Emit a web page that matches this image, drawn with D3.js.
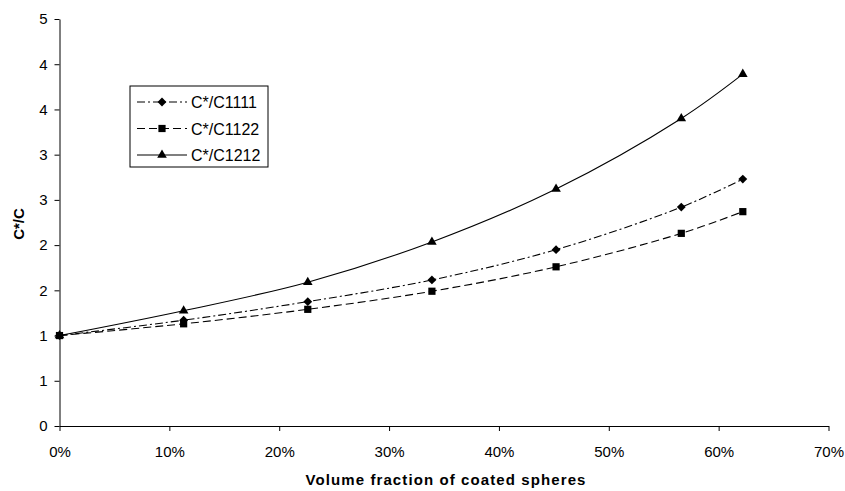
<!DOCTYPE html>
<html lang="en">
  <head>
    <meta charset="utf-8">
    <title>C*/C vs volume fraction</title>
    <script type="text/javascript" src="https://d3js.org/d3.v7.min.js"></script>
  </head>
  <style>
    body { margin: 0; background: #fff; }
    text { font-family: "Liberation Sans", Arial, sans-serif; fill: #000; }
  </style>
  <body>
    <svg class="chart"></svg>
  </body>

  <script>
    // data
    const volumeFraction = [0, 0.113, 0.226, 0.339, 0.452, 0.566, 0.622];
    const c1111 = [1, 1.17, 1.375, 1.615, 1.95, 2.42, 2.73];
    const c1122 = [1, 1.13, 1.29, 1.49, 1.76, 2.13, 2.37];
    const c1212 = [1, 1.275, 1.59, 2.035, 2.62, 3.40, 3.89];
    const seriesNames = ["C*/C1111", "C*/C1122", "C*/C1212"];

    const xTicks = [0, 0.1, 0.2, 0.3, 0.4, 0.5, 0.6, 0.7];
    const xTickLabels = ["0%", "10%", "20%", "30%", "40%", "50%", "60%", "70%"];
    const yTicks = [0, 0.5, 1, 1.5, 2, 2.5, 3, 3.5, 4, 4.5];
    const yTickLabels = ["0", "1", "1", "2", "2", "3", "3", "4", "4", "5"];

    const width = 845, height = 491;
    const margin = {top: 19, right: 16.5, bottom: 65, left: 59.5};

    const svg = d3.select(".chart")
      .attr("width", width)
      .attr("height", height);

    const x = d3.scaleLinear().domain([0, 0.7]).range([margin.left, width - margin.right]);
    const y = d3.scaleLinear().domain([0, 4.5]).range([height - margin.bottom, margin.top]);

    //axes
    const xAxis = d3.axisBottom(x)
      .tickValues(xTicks)
      .tickFormat((d, i) => xTickLabels[i])
      .tickSizeInner(5).tickSizeOuter(0)
      .tickPadding(15);
    svg.append("g")
      .attr("transform", "translate(0," + y(0) + ")")
      .call(xAxis);

    const yAxis = d3.axisLeft(y)
      .tickValues(yTicks)
      .tickFormat((d, i) => yTickLabels[i])
      .tickSizeInner(5).tickSizeOuter(0)
      .tickPadding(7);
    svg.append("g")
      .attr("transform", "translate(" + x(0) + ",0)")
      .call(yAxis);

    svg.selectAll(".tick text").style("font-size", "15px").attr("font-family", null);
    svg.selectAll(".domain, .tick line").attr("stroke", "#000");

    //axis titles
    svg.append("text")
      .attr("x", 446)
      .attr("y", 485)
      .attr("text-anchor", "middle")
      .style("font-size", "15px")
      .style("font-weight", "bold")
      .style("letter-spacing", "1.1px")
      .text("Volume fraction of coated spheres");

    svg.append("text")
      .attr("transform", "translate(24,224) rotate(-90)")
      .attr("text-anchor", "middle")
      .style("font-size", "15px")
      .style("font-weight", "bold")
      .text("C*/C");

    //series
    const symbols = [d3.symbolDiamond2, d3.symbolSquare, d3.symbolTriangle];
    const symbolSizes = [50, 52, 40];
    const dashes = ["8,3,2,3", "8,4", null];
    const allValues = [c1111, c1122, c1212];

    const line = d3.line()
      .x((d, i) => x(volumeFraction[i]))
      .y(d => y(d))
      .curve(d3.curveCatmullRom.alpha(0.5));

    allValues.forEach(function(vals, s) {
      svg.append("path")
        .datum(vals)
        .attr("fill", "none")
        .attr("stroke", "#000")
        .attr("stroke-width", 1.1)
        .attr("stroke-dasharray", dashes[s])
        .attr("d", line);

      svg.selectAll(".m" + s)
        .data(vals)
        .enter()
        .append("path")
          .attr("class", "m" + s)
          .attr("transform", (d, i) => "translate(" + x(volumeFraction[i]) + "," + y(d) + ")")
          .attr("d", d3.symbol().type(symbols[s]).size(symbolSizes[s]))
          .attr("fill", "#000");
    });

    //legend
    const legend = svg.append("g").attr("transform", "translate(130,86)");
    legend.append("rect")
      .attr("width", 138)
      .attr("height", 81)
      .attr("fill", "#fff")
      .attr("stroke", "#000")
      .attr("stroke-width", 1);

    seriesNames.forEach(function(name, s) {
      const ly = 16 + s * 26.5;
      legend.append("line")
        .attr("x1", 7).attr("x2", 57)
        .attr("y1", ly).attr("y2", ly)
        .attr("stroke", "#000")
        .attr("stroke-width", 1.1)
        .attr("stroke-dasharray", dashes[s]);
      legend.append("path")
        .attr("transform", "translate(32," + ly + ")")
        .attr("d", d3.symbol().type(symbols[s]).size(symbolSizes[s]))
        .attr("fill", "#000");
      legend.append("text")
        .attr("x", 61)
        .attr("y", ly + 6)
        .style("font-size", "16px")
        .text(name);
    });
  </script>
</html>
